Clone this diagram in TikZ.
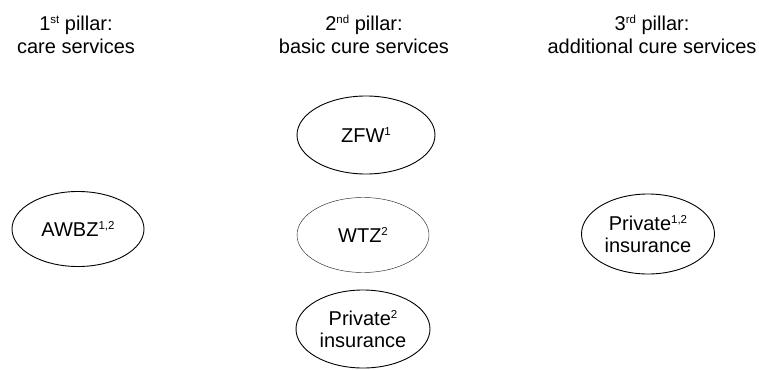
\documentclass[tikz,border=0pt]{standalone}
\usepackage{fontspec}
\setmainfont{Liberation Sans}
\usetikzlibrary{shapes.geometric}
\newcommand{\sups}[1]{\raisebox{0.32em}{\fontsize{11.5}{12}\selectfont #1}}
\tikzset{
  lbl/.style={font=\fontsize{20}{23}\selectfont, align=center, inner sep=0pt},
  oval/.style={ellipse, draw=black, line width=0.9pt, font=\fontsize{20}{22}\selectfont, align=center, inner sep=0pt},
  thinoval/.style={oval, line width=0.45pt, draw=black!85}
}
\begin{document}
\begin{tikzpicture}[x=1pt,y=-1pt]
\useasboundingbox (0,0) rectangle (759,369);
\clip (0,0) rectangle (759,369);
\node[lbl] (h1) at (76,34.5) {1\sups{st} pillar:\\care services};
\node[lbl] (h2) at (364,34.5) {2\sups{nd} pillar:\\basic cure services};
\node[lbl] (h3) at (652,34.5) {3\sups{rd} pillar:\\additional cure services};
\node[oval, minimum width=132pt, minimum height=75pt] (awbz) at (78,229) {AWBZ\sups{1,2}};
\node[oval, minimum width=138pt, minimum height=78pt] (zfw) at (366,135) {ZFW\sups{1}};
\node[thinoval, minimum width=132pt, minimum height=75pt] (wtz) at (363,235) {WTZ\sups{2}};
\node[oval, minimum width=134pt, minimum height=78pt] (priv2) at (363,329) {Private\sups{2}\\insurance};
\node[oval, minimum width=133pt, minimum height=80pt] (priv12) at (648,234) {Private\sups{1,2}\\insurance};
\end{tikzpicture}
\end{document}
